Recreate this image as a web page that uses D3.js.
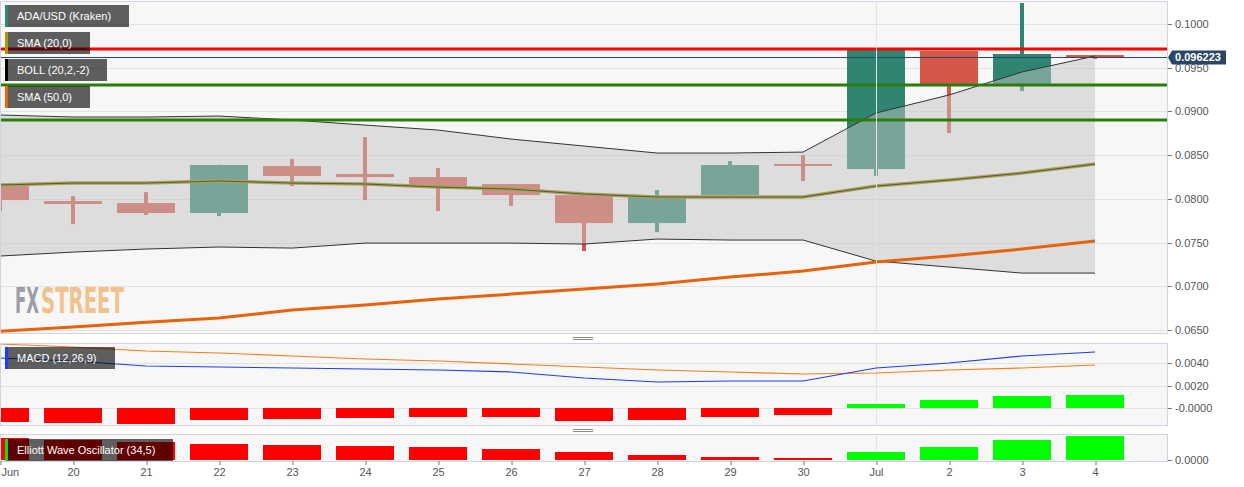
<!DOCTYPE html>
<html>
<head>
<meta charset="utf-8">
<script src="https://cdn.jsdelivr.net/npm/d3@7"></script>
<style>
  body { margin: 0; background: #fff; }
  svg { display: block; font-family: "Liberation Sans", Arial, sans-serif; }
</style>
</head>
<body>
<div id="chart"></div>
<script>
// ---------- data ----------
const days = ["Jun", "20", "21", "22", "23", "24", "25", "26", "27", "28", "29", "30", "Jul", "2", "3", "4"];

const open  = [0.08158, 0.07975, 0.07952, 0.07838, 0.08375, 0.08284, 0.08249, 0.08169, 0.08043, 0.07723, 0.08043, 0.08399, 0.08341, 0.09691, 0.09314, 0.09645];
const high  = [0.08160, 0.08032, 0.08078, 0.08390, 0.08455, 0.08707, 0.08352, 0.08170, 0.08043, 0.08101, 0.08432, 0.08501, 0.09710, 0.09691, 0.10240, 0.09645];
const low   = [0.07860, 0.07712, 0.07815, 0.07803, 0.08146, 0.07986, 0.07860, 0.07918, 0.07403, 0.07620, 0.08043, 0.08204, 0.08261, 0.08753, 0.09233, 0.09600];
const close = [0.07986, 0.07941, 0.07838, 0.08387, 0.08261, 0.08249, 0.08146, 0.08043, 0.07723, 0.08021, 0.08387, 0.08387, 0.09703, 0.09314, 0.09657, 0.09622];

const sma20    = [0.08158, 0.08181, 0.08181, 0.08204, 0.08181, 0.08170, 0.08135, 0.08112, 0.08055, 0.08021, 0.08021, 0.08021, 0.08146, 0.08215, 0.08295, 0.08398];
const bollUp   = [0.08959, 0.08936, 0.08936, 0.08947, 0.08902, 0.08844, 0.08787, 0.08684, 0.08604, 0.08524, 0.08524, 0.08535, 0.08982, 0.09188, 0.09451, 0.09634];
const bollLow  = [0.07346, 0.07391, 0.07426, 0.07449, 0.07437, 0.07494, 0.07494, 0.07494, 0.07483, 0.07540, 0.07529, 0.07529, 0.07288, 0.07220, 0.07151, 0.07151];
const sma50    = [0.06487, 0.06533, 0.06590, 0.06636, 0.06728, 0.06785, 0.06854, 0.06911, 0.06968, 0.07025, 0.07105, 0.07174, 0.07277, 0.07346, 0.07426, 0.07517];

const redLevels   = [0.09714];
const greenLevels = [0.09302, 0.08902];
const lastPrice   = 0.096223;

const macdLine   = [0.004484, 0.004215, 0.003767, 0.003677, 0.003587, 0.003498, 0.003408, 0.003229, 0.002691, 0.002332, 0.002422, 0.002422, 0.003587, 0.004036, 0.004664, 0.005022];
const signalLine = [0.005740, 0.005471, 0.005112, 0.004933, 0.004664, 0.004395, 0.004215, 0.003946, 0.003677, 0.003408, 0.003229, 0.003049, 0.003139, 0.003408, 0.003587, 0.003857];
const macdHist   = [-0.001256, -0.001345, -0.001435, -0.001076, -0.000987, -0.000897, -0.000807, -0.000807, -0.001166, -0.001076, -0.000807, -0.000628, 0.000359, 0.000717, 0.001076, 0.001166];

const ewo = [-0.0055, -0.0050, -0.0045, -0.0040, -0.00375, -0.0035, -0.00325, -0.00275, -0.0020, -0.00125, -0.00075, -0.0005, 0.0020, 0.00325, 0.0050, 0.0060];

const priceTicks = [0.065, 0.070, 0.075, 0.080, 0.085, 0.090, 0.095, 0.100];
const macdTicks  = [0.0, 0.002, 0.004];
const macdTickLabels = ["-0.0000", "0.0020", "0.0040"];
const ewoTicks   = [0.0];

const legends = [
  { text: "ADA/USD (Kraken)", color: "#2e8a78", y: 5,  w: 124 },
  { text: "SMA (20,0)",       color: "#a99a00", y: 32, w: 85 },
  { text: "BOLL (20,2,-2)",   color: "#000000", y: 59, w: 102 },
  { text: "SMA (50,0)",       color: "#e8650a", y: 86, w: 85 }
];

// ---------- layout ----------
const WIDTH = 1244, HEIGHT = 487;
const PLOT_R = 1167;
const MAIN = { top: 1, bottom: 333 };
const MACD = { top: 343, bottom: 425 };
const EWO  = { top: 434, bottom: 461 };
const UP = "#2f8571", DOWN = "#d4584a";
const GRID = "#e3e3e3", BORDER = "#cfd4e3";

const svg = d3.select("#chart").append("svg")
  .attr("width", WIDTH).attr("height", HEIGHT);

const x = d3.scalePoint().domain(days).range([0, 1095]);
const barW = 58;

const y = d3.scaleLinear().domain([0.065, 0.1]).range([330, 24]);
const ym = d3.scaleLinear().domain([0, 0.004]).range([408, 363.4]);
const ye = d3.scaleLinear().domain([0, 0.0065]).range([EWO.bottom - 1, EWO.top]);

// clip paths
const defs = svg.append("defs");
[["clipMain", MAIN], ["clipMacd", MACD], ["clipEwo", EWO]].forEach(([id, p]) => {
  defs.append("clipPath").attr("id", id).append("rect")
    .attr("x", 0).attr("y", p.top).attr("width", PLOT_R).attr("height", p.bottom - p.top);
});

// panel backgrounds
[MAIN, MACD, EWO].forEach(p => {
  svg.append("rect").attr("x", 0.5).attr("y", p.top + 0.5)
    .attr("width", PLOT_R).attr("height", p.bottom - p.top)
    .attr("fill", "#f7f7f7");
});

// --------------- main panel ---------------
const gMain = svg.append("g").attr("clip-path", "url(#clipMain)");

gMain.selectAll("line.grid").data(priceTicks).enter().append("line")
  .attr("x1", 0).attr("x2", PLOT_R)
  .attr("y1", d => Math.round(y(d)) + 0.5).attr("y2", d => Math.round(y(d)) + 0.5)
  .attr("stroke", GRID);

// month boundary
[MAIN, MACD, EWO].forEach(p => {
  svg.append("line")
    .attr("x1", x("Jul") + 0.5).attr("x2", x("Jul") + 0.5)
    .attr("y1", p.top).attr("y2", p.bottom)
    .attr("stroke", GRID);
});

// FXStreet watermark: each part squeezed horizontally to its width
const WM_FONT = "'Liberation Sans Narrow', 'DejaVu Sans Condensed', sans-serif";
function wmPart(txt, color, x0, w) {
  const t = gMain.append("text")
    .attr("font-family", WM_FONT).attr("font-weight", "bold").attr("font-size", 35)
    .attr("fill", color).text(txt);
  const len = t.node().getComputedTextLength() || w;
  t.attr("transform", `translate(${x0},313) scale(${w / len},1)`);
}
wmPart("FX", "#9c9da6", 15, 24);
wmPart("STREET", "#f3c18c", 41, 83);

// candles
const candles = gMain.append("g").selectAll("g").data(days).enter().append("g");
candles.append("rect")
  .attr("x", d => x(d) - 2)
  .attr("width", 4)
  .attr("y", (d, i) => y(high[i]))
  .attr("height", (d, i) => Math.max(1, y(low[i]) - y(high[i])))
  .attr("fill", (d, i) => close[i] >= open[i] ? UP : DOWN);
candles.append("rect")
  .attr("x", d => x(d) - barW / 2)
  .attr("width", barW)
  .attr("y", (d, i) => y(Math.max(open[i], close[i])))
  .attr("height", (d, i) => Math.max(2, Math.abs(y(open[i]) - y(close[i]))))
  .attr("fill", (d, i) => close[i] >= open[i] ? UP : DOWN);

// bollinger band fill over candles
const band = d3.area()
  .x(d => x(d))
  .y0((d, i) => y(bollLow[i]))
  .y1((d, i) => y(bollUp[i]));
gMain.append("path").datum(days).attr("d", band)
  .attr("fill", "rgb(195,195,195)").attr("fill-opacity", 0.5);

function lineOf(values, scale) {
  return d3.line().x(d => x(d)).y((d, i) => scale(values[i]));
}

gMain.append("path").datum(days).attr("d", lineOf(bollUp, y))
  .attr("fill", "none").attr("stroke", "#333").attr("stroke-width", 1);
gMain.append("path").datum(days).attr("d", lineOf(bollLow, y))
  .attr("fill", "none").attr("stroke", "#333").attr("stroke-width", 1);
gMain.append("path").datum(days).attr("d", lineOf(sma20, y))
  .attr("fill", "none").attr("stroke", "#aaa552").attr("stroke-width", 3.5);
gMain.append("path").datum(days).attr("d", lineOf(sma20, y))
  .attr("fill", "none").attr("stroke", "#55554d").attr("stroke-width", 1);
gMain.append("path").datum(days).attr("d", lineOf(sma50, y))
  .attr("fill", "none").attr("stroke", "#e8620c").attr("stroke-width", 3);

// support / resistance levels
gMain.selectAll("line.red").data(redLevels).enter().append("line")
  .attr("x1", 0).attr("x2", PLOT_R).attr("y1", d => y(d)).attr("y2", d => y(d))
  .attr("stroke", "#ff0000").attr("stroke-width", 3);
gMain.selectAll("line.green").data(greenLevels).enter().append("line")
  .attr("x1", 0).attr("x2", PLOT_R).attr("y1", d => y(d)).attr("y2", d => y(d))
  .attr("stroke", "#2a7d0a").attr("stroke-width", 3);

// last price line
gMain.append("line")
  .attr("x1", 0).attr("x2", PLOT_R)
  .attr("y1", Math.round(y(lastPrice)) + 0.5).attr("y2", Math.round(y(lastPrice)) + 0.5)
  .attr("stroke", "#2c4766").attr("stroke-width", 1);

// --------------- MACD panel ---------------
const gMacd = svg.append("g").attr("clip-path", "url(#clipMacd)");
gMacd.selectAll("line.grid").data(macdTicks).enter().append("line")
  .attr("x1", 0).attr("x2", PLOT_R)
  .attr("y1", d => Math.round(ym(d)) + 0.5).attr("y2", d => Math.round(ym(d)) + 0.5)
  .attr("stroke", GRID);
gMacd.selectAll("rect.hist").data(days).enter().append("rect")
  .attr("x", d => x(d) - barW / 2)
  .attr("width", barW)
  .attr("y", (d, i) => Math.min(ym(0), ym(macdHist[i])))
  .attr("height", (d, i) => Math.abs(ym(macdHist[i]) - ym(0)))
  .attr("fill", (d, i) => macdHist[i] >= 0 ? "#00ff00" : "#ff0000");
gMacd.append("path").datum(days).attr("d", lineOf(signalLine, ym))
  .attr("fill", "none").attr("stroke", "#ff7a1a").attr("stroke-width", 1.2);
gMacd.append("path").datum(days).attr("d", lineOf(macdLine, ym))
  .attr("fill", "none").attr("stroke", "#1f3df0").attr("stroke-width", 1.2);

// --------------- Elliott wave panel ---------------
const gEwo = svg.append("g").attr("clip-path", "url(#clipEwo)");
gEwo.selectAll("rect.ewo").data(days).enter().append("rect")
  .attr("x", d => x(d) - barW / 2)
  .attr("width", barW)
  .attr("y", (d, i) => ye(Math.abs(ewo[i])))
  .attr("height", (d, i) => ye(0) - ye(Math.abs(ewo[i])))
  .attr("fill", (d, i) => ewo[i] >= 0 ? "#00ff00" : "#ff0000");

// panel borders
[MAIN, MACD, EWO].forEach(p => {
  svg.append("rect").attr("x", 0.5).attr("y", p.top + 0.5)
    .attr("width", PLOT_R).attr("height", p.bottom - p.top)
    .attr("fill", "none").attr("stroke", BORDER);
});

// resize handles between panels
[338, 430].forEach(hy => {
  [-1, 1].forEach(o => {
    svg.append("line").attr("x1", 573).attr("x2", 593)
      .attr("y1", hy + o + 0.5).attr("y2", hy + o + 0.5)
      .attr("stroke", "#888");
  });
});

// --------------- right axes ---------------
function rightAxis(ticks, scale, labels) {
  const g = svg.append("g");
  ticks.forEach((t, i) => {
    const ty = Math.round(scale(t)) + 0.5;
    g.append("line").attr("x1", PLOT_R + 1).attr("x2", PLOT_R + 5)
      .attr("y1", ty).attr("y2", ty).attr("stroke", "#777");
    g.append("text").attr("x", 1175).attr("y", ty).attr("dy", "0.35em")
      .attr("font-size", 11).attr("fill", "#555")
      .text(labels ? labels[i] : d3.format(".4f")(t));
  });
}
rightAxis(priceTicks, y);
rightAxis(macdTicks, ym, macdTickLabels);
rightAxis(ewoTicks, ye);

// last price tag
const py = Math.round(y(lastPrice)) + 0.5;
svg.append("path")
  .attr("d", `M${PLOT_R + 1},${py} L${PLOT_R + 5},${py - 7} H1226 V${py + 7} H${PLOT_R + 5} Z`)
  .attr("fill", "#2c4766");
svg.append("text").attr("x", 1198).attr("y", py).attr("dy", "0.36em")
  .attr("text-anchor", "middle").attr("font-size", 11).attr("font-weight", "bold")
  .attr("fill", "#fff").text(d3.format(".6f")(lastPrice));

// --------------- x axis ---------------
const xAxis = svg.append("g")
  .attr("transform", `translate(0,${EWO.bottom})`)
  .call(d3.axisBottom(x).tickSize(4).tickSizeOuter(0));
xAxis.select(".domain").remove();
xAxis.selectAll("line").attr("stroke", "#777").attr("transform", "translate(0.5,0)");
xAxis.selectAll("text").attr("font-size", 11).attr("fill", "#555")
  .attr("font-family", "'Liberation Sans', Arial, sans-serif");
// first label sits at the left edge
xAxis.selectAll("text").filter(d => d === days[0])
  .attr("text-anchor", "start").attr("x", 1);

// --------------- legends ---------------
function legend(item, x0, y0) {
  svg.append("rect").attr("x", x0).attr("y", y0).attr("width", item.w).attr("height", 22)
    .attr("fill", "rgba(0,0,0,0.62)");
  svg.append("rect").attr("x", x0).attr("y", y0).attr("width", 3).attr("height", 22)
    .attr("fill", item.color);
  svg.append("text").attr("x", x0 + 12).attr("y", y0 + 11).attr("dy", "0.35em")
    .attr("font-size", 11).attr("fill", "#fff").text(item.text);
}
legends.forEach(l => legend(l, 5, l.y));
legend({ text: "MACD (12,26,9)", color: "#1a3cff", w: 110 }, 5, 347);
legend({ text: "Elliott Wave Oscillator (34,5)", color: "#00e600", w: 168 }, 5, 439);
</script>
</body>
</html>
